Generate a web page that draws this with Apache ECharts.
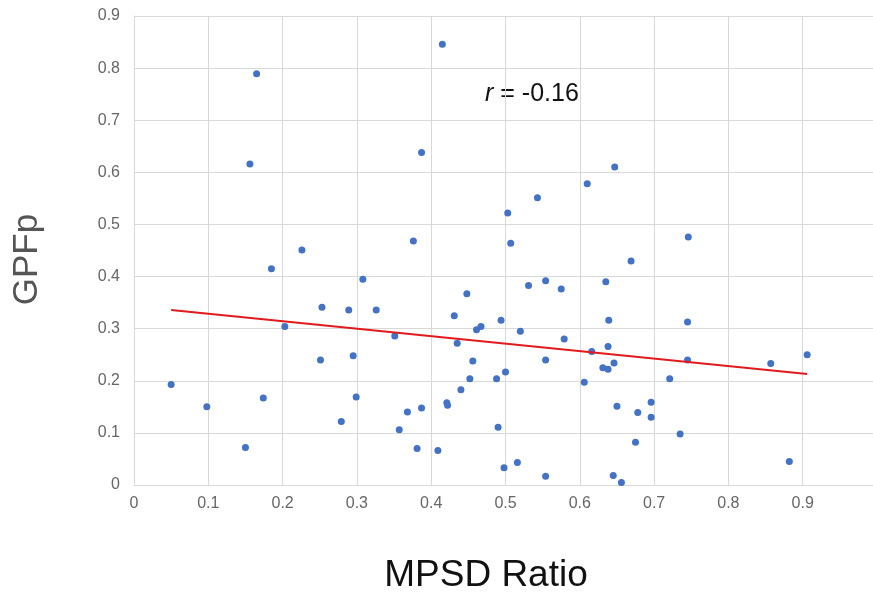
<!DOCTYPE html>
<html>
<head>
<meta charset="utf-8">
<script src="https://cdn.jsdelivr.net/npm/echarts@6/dist/echarts.min.js"></script>
<style>
html,body{margin:0;padding:0;background:#fff;}
#chart{width:873px;height:592px;}
</style>
</head>
<body>
<div id="chart"></div>
<script>
// MPSD Ratio (x) values
const mpsdRatio = [
  0.415, 0.165, 0.156, 0.387, 0.226, 0.376, 0.503, 0.507, 0.543, 0.610,
  0.647, 0.746, 0.050, 0.098, 0.150, 0.174, 0.185, 0.203, 0.253, 0.251,
  0.279, 0.289, 0.295, 0.299, 0.308, 0.326, 0.351, 0.357, 0.368, 0.381,
  0.387, 0.409, 0.421, 0.422, 0.431, 0.435, 0.440, 0.448, 0.452, 0.456,
  0.461, 0.467, 0.488, 0.490, 0.494, 0.669, 0.531, 0.554, 0.575, 0.635,
  0.520, 0.639, 0.745, 0.579, 0.616, 0.638, 0.554, 0.745, 0.631, 0.638,
  0.646, 0.857, 0.906, 0.500, 0.606, 0.721, 0.650, 0.696, 0.678, 0.696,
  0.735, 0.675, 0.516, 0.498, 0.882, 0.554, 0.645, 0.656
];
// GPFp (y) values
const gpfp = [
  0.846, 0.789, 0.616, 0.638, 0.451, 0.468, 0.522, 0.464, 0.551, 0.578,
  0.610, 0.476, 0.193, 0.150, 0.072, 0.167, 0.415, 0.304, 0.341, 0.240,
  0.122, 0.336, 0.248, 0.169, 0.395, 0.336, 0.286, 0.106, 0.140, 0.070,
  0.148, 0.066, 0.158, 0.153, 0.325, 0.272, 0.183, 0.367, 0.204, 0.238,
  0.298, 0.304, 0.204, 0.111, 0.316, 0.430, 0.383, 0.392, 0.376, 0.390,
  0.295, 0.316, 0.313, 0.280, 0.256, 0.266, 0.240, 0.240, 0.225, 0.222,
  0.234, 0.233, 0.250, 0.217, 0.197, 0.204, 0.151, 0.159, 0.139, 0.130,
  0.098, 0.082, 0.043, 0.033, 0.045, 0.017, 0.018, 0.005
];
// Linear trend line end points (x, y)
const trendX = [0.05, 0.906];
const trendY = [0.336, 0.213];
const rLabel = '-0.16';

const font = '"Liberation Sans", Arial, sans-serif';
const points = mpsdRatio.map((x, i) => [x, gpfp[i]]);
const trend = trendX.map((x, i) => [x, trendY[i]]);

const chart = echarts.init(document.getElementById('chart'), null, {renderer: 'canvas'});
chart.setOption({
  animation: false,
  backgroundColor: '#ffffff',
  grid: {left: 134, right: -4, top: 16, bottom: 107, containLabel: false, outerBoundsMode: 'none'},
  xAxis: {
    type: 'value', min: 0, max: 1, interval: 0.1,
    name: 'MPSD Ratio', nameLocation: 'middle', nameGap: 72,
    nameTextStyle: {fontFamily: font, fontSize: 37, color: '#111', padding: [0, 39, 0, 0]},
    axisLine: {show: true, lineStyle: {color: '#d9d9d9', width: 1}},
    axisTick: {show: false},
    axisLabel: {fontFamily: font, fontSize: 16, color: '#666', margin: 11},
    splitLine: {show: true, lineStyle: {color: '#d9d9d9', width: 1}}
  },
  yAxis: {
    type: 'value', min: 0, max: 0.9, interval: 0.1,
    name: 'GPFp', nameLocation: 'middle', nameGap: 89, nameRotate: 90,
    nameTextStyle: {fontFamily: font, fontSize: 35, color: '#555', padding: [0, 18, 0, 0]},
    axisLine: {show: true, lineStyle: {color: '#d9d9d9', width: 1}},
    axisTick: {show: false},
    axisLabel: {fontFamily: font, fontSize: 16, color: '#666', margin: 14},
    splitLine: {show: true, lineStyle: {color: '#d9d9d9', width: 1}}
  },
  graphic: [{
    type: 'text', x: 485, y: 94,
    style: {
      text: '{i|r} = ' + rLabel,
      verticalAlign: 'middle',
      font: '25px "Liberation Sans", Arial, sans-serif',
      fill: '#111',
      rich: {i: {fontStyle: 'italic', fontSize: 25, fontFamily: font, fill: '#111'}}
    }
  }],
  series: [
    {
      type: 'scatter', data: points, symbolSize: 7,
      itemStyle: {color: '#4472C4', opacity: 1}
    },
    {
      type: 'line', data: trend, symbol: 'none',
      lineStyle: {color: '#e31a1c', width: 2}, z: 3
    }
  ]
});
</script>
</body>
</html>
